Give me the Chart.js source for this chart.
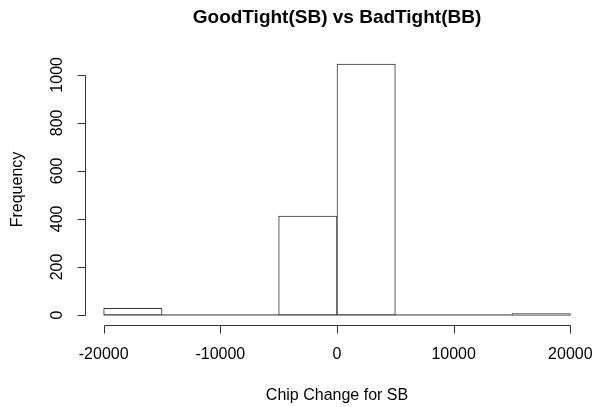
<!DOCTYPE html>
<html>
<head>
<meta charset="utf-8">
<script src="https://cdn.jsdelivr.net/npm/chart.js@4/dist/chart.umd.min.js"></script>
<style>
  html, body { margin: 0; padding: 0; background: #fff; }
  #wrap { width: 594px; height: 407px; }
</style>
</head>
<body>
<div id="wrap"><canvas id="histChart" width="594" height="407"></canvas></div>
<script>
// histogram bins (chip change for SB), 5000 wide
const binStarts = [-20000, -15000, -10000, -5000, 0, 5000, 10000, 15000];
const binWidth = 5000;
const counts = [28, 0, 0, 412, 1045, 0, 0, 6];

const xTicks = [-20000, -10000, 0, 10000, 20000];
const yTicks = [0, 200, 400, 600, 800, 1000];

const titleText = 'GoodTight(SB) vs BadTight(BB)';
const xLabel = 'Chip Change for SB';
const yLabel = 'Frequency';

const FONT = '"Liberation Sans", Arial, Helvetica, sans-serif';

// R style axes, title and labels drawn from the chart scales
const rAxes = {
    id: 'rAxes',
    afterDraw(chart) {
        const ctx = chart.ctx;
        const xs = chart.scales.x;
        const ys = chart.scales.y;
        const area = chart.chartArea;
        ctx.save();
        ctx.strokeStyle = '#333';
        ctx.lineWidth = 1;
        ctx.fillStyle = '#000';

        // x axis
        const axY = Math.round(area.bottom) + 0.5;
        const x0 = Math.round(xs.getPixelForValue(xTicks[0])) + 0.5;
        const x1 = Math.round(xs.getPixelForValue(xTicks[xTicks.length - 1])) + 0.5;
        ctx.beginPath();
        ctx.moveTo(x0, axY);
        ctx.lineTo(x1, axY);
        xTicks.forEach(v => {
            const px = Math.round(xs.getPixelForValue(v)) + 0.5;
            ctx.moveTo(px, axY);
            ctx.lineTo(px, axY + 8);
        });
        ctx.stroke();
        ctx.font = '16px ' + FONT;
        ctx.textAlign = 'center';
        ctx.textBaseline = 'middle';
        xTicks.forEach(v => {
            ctx.fillText(String(v), xs.getPixelForValue(v), axY + 29);
        });

        // y axis
        const axX = Math.round(area.left) + 0.5;
        const y0 = Math.round(ys.getPixelForValue(yTicks[0])) + 0.5;
        const y1 = Math.round(ys.getPixelForValue(yTicks[yTicks.length - 1])) + 0.5;
        ctx.beginPath();
        ctx.moveTo(axX, y0);
        ctx.lineTo(axX, y1);
        yTicks.forEach(v => {
            const py = Math.round(ys.getPixelForValue(v)) + 0.5;
            ctx.moveTo(axX, py);
            ctx.lineTo(axX - 8, py);
        });
        ctx.stroke();
        yTicks.forEach(v => {
            ctx.save();
            ctx.translate(axX - 28, ys.getPixelForValue(v));
            ctx.rotate(-Math.PI / 2);
            ctx.fillText(String(v), 0, 0);
            ctx.restore();
        });

        // axis titles
        const midX = (area.left + area.right) / 2;
        ctx.fillText(xLabel, midX, axY + 70);
        ctx.save();
        ctx.translate(18, (area.top + area.bottom) / 2);
        ctx.rotate(-Math.PI / 2);
        ctx.fillText(yLabel, 0, 0);
        ctx.restore();

        // main title
        ctx.font = 'bold 19px ' + FONT;
        ctx.fillText(titleText, midX, 18);
        ctx.restore();
    }
};

const barData = binStarts.map((s, i) => ({ x: s + binWidth / 2, y: counts[i] }));
const baseline = [{ x: binStarts[0], y: 0 }, { x: binStarts[binStarts.length - 1] + binWidth, y: 0 }];

const ymax = Math.max(...counts);

new Chart(document.getElementById('histChart').getContext('2d'), {
    type: 'bar',
    data: {
        datasets: [{
            label: 'Frequency',
            data: barData,
            backgroundColor: '#ffffff',
            borderColor: '#333',
            borderWidth: 1,
            borderSkipped: false,
            barPercentage: 1,
            categoryPercentage: 1,
            order: 1
        }, {
            type: 'line',
            label: 'baseline',
            data: baseline,
            borderColor: '#333',
            borderWidth: 1,
            pointRadius: 0,
            order: 2
        }]
    },
    options: {
        responsive: false,
        animation: false,
        layout: { padding: { left: 85, right: 5, top: 54, bottom: 82 } },
        plugins: {
            legend: { display: false },
            tooltip: { enabled: false },
            title: { display: false }
        },
        scales: {
            x: {
                type: 'linear',
                display: false,
                offset: false,
                min: -21600,
                max: 21600
            },
            y: {
                display: false,
                min: -0.04 * ymax,
                max: ymax * 1.04
            }
        }
    },
    plugins: [rAxes]
});
</script>
</body>
</html>
